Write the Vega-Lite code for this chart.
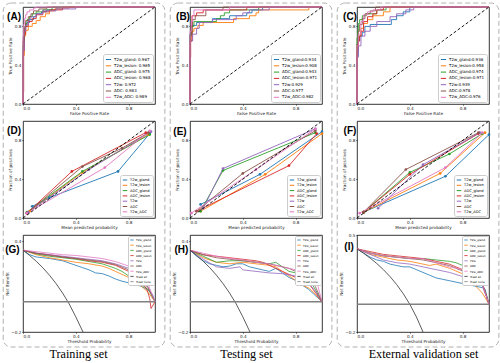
{
"$schema":"https://vega.github.io/schema/vega-lite/v6.json",
"padding":{"left":2,"top":2,"right":0,"bottom":0},
"config":{
 "view":{"stroke":"#000000","strokeWidth":0.8},
 "axis":{"grid":false,"domain":false,"labelFontSize":4.2,"titleFontSize":4.2,"titleFontWeight":"normal","labelFont":"DejaVu Sans","titleFont":"DejaVu Sans","labelColor":"#222222","titleColor":"#222222","tickSize":1.2,"tickWidth":0.6,"tickColor":"#000000","labelPadding":0.8,"titlePadding":1.5},
 "title":{"font":"Liberation Serif","fontSize":12.2,"fontWeight":"normal","color":"#000000"}
},
"datasets":{
"roc":[
{"p":"A","s":"T2w_gland: 0.967","x":0,"y":0},{"p":"A","s":"T2w_gland: 0.967","x":0,"y":0.5},{"p":"A","s":"T2w_gland: 0.967","x":0.005,"y":0.65},{"p":"A","s":"T2w_gland: 0.967","x":0.01,"y":0.75},{"p":"A","s":"T2w_gland: 0.967","x":0.02,"y":0.8},{"p":"A","s":"T2w_gland: 0.967","x":0.03,"y":0.84},{"p":"A","s":"T2w_gland: 0.967","x":0.05,"y":0.87},{"p":"A","s":"T2w_gland: 0.967","x":0.08,"y":0.9},{"p":"A","s":"T2w_gland: 0.967","x":0.1,"y":0.93},{"p":"A","s":"T2w_gland: 0.967","x":0.14,"y":0.95},{"p":"A","s":"T2w_gland: 0.967","x":0.18,"y":0.97},{"p":"A","s":"T2w_gland: 0.967","x":0.25,"y":0.99},{"p":"A","s":"T2w_gland: 0.967","x":0.3,"y":1},{"p":"A","s":"T2w_gland: 0.967","x":1,"y":1},
{"p":"A","s":"T2w_lesion: 0.965","x":0,"y":0},{"p":"A","s":"T2w_lesion: 0.965","x":0,"y":0.5},{"p":"A","s":"T2w_lesion: 0.965","x":0.01,"y":0.7},{"p":"A","s":"T2w_lesion: 0.965","x":0.02,"y":0.76},{"p":"A","s":"T2w_lesion: 0.965","x":0.04,"y":0.8},{"p":"A","s":"T2w_lesion: 0.965","x":0.07,"y":0.83},{"p":"A","s":"T2w_lesion: 0.965","x":0.1,"y":0.86},{"p":"A","s":"T2w_lesion: 0.965","x":0.13,"y":0.9},{"p":"A","s":"T2w_lesion: 0.965","x":0.17,"y":0.93},{"p":"A","s":"T2w_lesion: 0.965","x":0.2,"y":0.96},{"p":"A","s":"T2w_lesion: 0.965","x":0.24,"y":0.98},{"p":"A","s":"T2w_lesion: 0.965","x":0.3,"y":1},{"p":"A","s":"T2w_lesion: 0.965","x":1,"y":1},
{"p":"A","s":"ADC_gland: 0.975","x":0,"y":0},{"p":"A","s":"ADC_gland: 0.975","x":0,"y":0.6},{"p":"A","s":"ADC_gland: 0.975","x":0.01,"y":0.78},{"p":"A","s":"ADC_gland: 0.975","x":0.02,"y":0.83},{"p":"A","s":"ADC_gland: 0.975","x":0.03,"y":0.87},{"p":"A","s":"ADC_gland: 0.975","x":0.05,"y":0.9},{"p":"A","s":"ADC_gland: 0.975","x":0.07,"y":0.93},{"p":"A","s":"ADC_gland: 0.975","x":0.1,"y":0.95},{"p":"A","s":"ADC_gland: 0.975","x":0.15,"y":0.97},{"p":"A","s":"ADC_gland: 0.975","x":0.22,"y":1},{"p":"A","s":"ADC_gland: 0.975","x":1,"y":1},
{"p":"A","s":"ADC_lesion: 0.968","x":0,"y":0},{"p":"A","s":"ADC_lesion: 0.968","x":0,"y":0.12},{"p":"A","s":"ADC_lesion: 0.968","x":0.005,"y":0.55},{"p":"A","s":"ADC_lesion: 0.968","x":0.01,"y":0.72},{"p":"A","s":"ADC_lesion: 0.968","x":0.02,"y":0.8},{"p":"A","s":"ADC_lesion: 0.968","x":0.04,"y":0.85},{"p":"A","s":"ADC_lesion: 0.968","x":0.07,"y":0.88},{"p":"A","s":"ADC_lesion: 0.968","x":0.1,"y":0.92},{"p":"A","s":"ADC_lesion: 0.968","x":0.15,"y":0.95},{"p":"A","s":"ADC_lesion: 0.968","x":0.2,"y":0.97},{"p":"A","s":"ADC_lesion: 0.968","x":0.3,"y":0.99},{"p":"A","s":"ADC_lesion: 0.968","x":0.35,"y":1},{"p":"A","s":"ADC_lesion: 0.968","x":1,"y":1},
{"p":"A","s":"T2w: 0.972","x":0,"y":0},{"p":"A","s":"T2w: 0.972","x":0,"y":0.55},{"p":"A","s":"T2w: 0.972","x":0.01,"y":0.75},{"p":"A","s":"T2w: 0.972","x":0.02,"y":0.82},{"p":"A","s":"T2w: 0.972","x":0.04,"y":0.87},{"p":"A","s":"T2w: 0.972","x":0.06,"y":0.9},{"p":"A","s":"T2w: 0.972","x":0.1,"y":0.93},{"p":"A","s":"T2w: 0.972","x":0.15,"y":0.96},{"p":"A","s":"T2w: 0.972","x":0.25,"y":0.98},{"p":"A","s":"T2w: 0.972","x":0.4,"y":1},{"p":"A","s":"T2w: 0.972","x":1,"y":1},
{"p":"A","s":"ADC: 0.983","x":0,"y":0},{"p":"A","s":"ADC: 0.983","x":0,"y":0.65},{"p":"A","s":"ADC: 0.983","x":0.01,"y":0.8},{"p":"A","s":"ADC: 0.983","x":0.02,"y":0.86},{"p":"A","s":"ADC: 0.983","x":0.04,"y":0.9},{"p":"A","s":"ADC: 0.983","x":0.06,"y":0.93},{"p":"A","s":"ADC: 0.983","x":0.08,"y":0.96},{"p":"A","s":"ADC: 0.983","x":0.12,"y":0.98},{"p":"A","s":"ADC: 0.983","x":0.18,"y":1},{"p":"A","s":"ADC: 0.983","x":1,"y":1},
{"p":"A","s":"T2w_ADC: 0.989","x":0,"y":0},{"p":"A","s":"T2w_ADC: 0.989","x":0,"y":0.7},{"p":"A","s":"T2w_ADC: 0.989","x":0.005,"y":0.82},{"p":"A","s":"T2w_ADC: 0.989","x":0.01,"y":0.88},{"p":"A","s":"T2w_ADC: 0.989","x":0.02,"y":0.92},{"p":"A","s":"T2w_ADC: 0.989","x":0.03,"y":0.95},{"p":"A","s":"T2w_ADC: 0.989","x":0.05,"y":0.97},{"p":"A","s":"T2w_ADC: 0.989","x":0.08,"y":0.99},{"p":"A","s":"T2w_ADC: 0.989","x":0.1,"y":1},{"p":"A","s":"T2w_ADC: 0.989","x":1,"y":1},
{"p":"B","s":"T2w_gland:0.934","x":0,"y":0},{"p":"B","s":"T2w_gland:0.934","x":0,"y":0.72},{"p":"B","s":"T2w_gland:0.934","x":0.015,"y":0.81},{"p":"B","s":"T2w_gland:0.934","x":0.05,"y":0.84},{"p":"B","s":"T2w_gland:0.934","x":0.17,"y":0.88},{"p":"B","s":"T2w_gland:0.934","x":0.3,"y":0.91},{"p":"B","s":"T2w_gland:0.934","x":0.43,"y":0.94},{"p":"B","s":"T2w_gland:0.934","x":0.47,"y":0.97},{"p":"B","s":"T2w_gland:0.934","x":0.55,"y":1},{"p":"B","s":"T2w_gland:0.934","x":1,"y":1},
{"p":"B","s":"T2w_lesion:0.908","x":0,"y":0},{"p":"B","s":"T2w_lesion:0.908","x":0,"y":0.65},{"p":"B","s":"T2w_lesion:0.908","x":0.015,"y":0.75},{"p":"B","s":"T2w_lesion:0.908","x":0.03,"y":0.78},{"p":"B","s":"T2w_lesion:0.908","x":0.06,"y":0.81},{"p":"B","s":"T2w_lesion:0.908","x":0.1,"y":0.84},{"p":"B","s":"T2w_lesion:0.908","x":0.33,"y":0.88},{"p":"B","s":"T2w_lesion:0.908","x":0.45,"y":0.91},{"p":"B","s":"T2w_lesion:0.908","x":0.5,"y":0.94},{"p":"B","s":"T2w_lesion:0.908","x":0.52,"y":0.97},{"p":"B","s":"T2w_lesion:0.908","x":0.9,"y":1},{"p":"B","s":"T2w_lesion:0.908","x":1,"y":1},
{"p":"B","s":"ADC_gland:0.943","x":0,"y":0},{"p":"B","s":"ADC_gland:0.943","x":0,"y":0.72},{"p":"B","s":"ADC_gland:0.943","x":0.015,"y":0.8},{"p":"B","s":"ADC_gland:0.943","x":0.03,"y":0.85},{"p":"B","s":"ADC_gland:0.943","x":0.2,"y":0.88},{"p":"B","s":"ADC_gland:0.943","x":0.23,"y":0.91},{"p":"B","s":"ADC_gland:0.943","x":0.26,"y":0.94},{"p":"B","s":"ADC_gland:0.943","x":0.3,"y":0.97},{"p":"B","s":"ADC_gland:0.943","x":0.52,"y":1},{"p":"B","s":"ADC_gland:0.943","x":1,"y":1},
{"p":"B","s":"ADC_lesion:0.971","x":0,"y":0},{"p":"B","s":"ADC_lesion:0.971","x":0,"y":0.48},{"p":"B","s":"ADC_lesion:0.971","x":0.005,"y":0.65},{"p":"B","s":"ADC_lesion:0.971","x":0.015,"y":0.91},{"p":"B","s":"ADC_lesion:0.971","x":0.05,"y":0.94},{"p":"B","s":"ADC_lesion:0.971","x":0.1,"y":0.97},{"p":"B","s":"ADC_lesion:0.971","x":0.43,"y":1},{"p":"B","s":"ADC_lesion:0.971","x":1,"y":1},
{"p":"B","s":"T2w:0.929","x":0,"y":0},{"p":"B","s":"T2w:0.929","x":0,"y":0.65},{"p":"B","s":"T2w:0.929","x":0.02,"y":0.72},{"p":"B","s":"T2w:0.929","x":0.05,"y":0.78},{"p":"B","s":"T2w:0.929","x":0.07,"y":0.84},{"p":"B","s":"T2w:0.929","x":0.17,"y":0.87},{"p":"B","s":"T2w:0.929","x":0.35,"y":0.91},{"p":"B","s":"T2w:0.929","x":0.4,"y":0.94},{"p":"B","s":"T2w:0.929","x":0.45,"y":0.97},{"p":"B","s":"T2w:0.929","x":0.6,"y":1},{"p":"B","s":"T2w:0.929","x":1,"y":1},
{"p":"B","s":"ADC:0.977","x":0,"y":0},{"p":"B","s":"ADC:0.977","x":0,"y":0.7},{"p":"B","s":"ADC:0.977","x":0.01,"y":0.81},{"p":"B","s":"ADC:0.977","x":0.02,"y":0.87},{"p":"B","s":"ADC:0.977","x":0.04,"y":0.91},{"p":"B","s":"ADC:0.977","x":0.12,"y":0.97},{"p":"B","s":"ADC:0.977","x":0.25,"y":1},{"p":"B","s":"ADC:0.977","x":1,"y":1},
{"p":"B","s":"T2w_ADC:0.982","x":0,"y":0},{"p":"B","s":"T2w_ADC:0.982","x":0,"y":0.75},{"p":"B","s":"T2w_ADC:0.982","x":0.01,"y":0.85},{"p":"B","s":"T2w_ADC:0.982","x":0.02,"y":0.91},{"p":"B","s":"T2w_ADC:0.982","x":0.03,"y":0.97},{"p":"B","s":"T2w_ADC:0.982","x":0.3,"y":1},{"p":"B","s":"T2w_ADC:0.982","x":1,"y":1},
{"p":"C","s":"T2w_gland:0.936","x":0,"y":0},{"p":"C","s":"T2w_gland:0.936","x":0,"y":0.5},{"p":"C","s":"T2w_gland:0.936","x":0.01,"y":0.65},{"p":"C","s":"T2w_gland:0.936","x":0.02,"y":0.7},{"p":"C","s":"T2w_gland:0.936","x":0.04,"y":0.74},{"p":"C","s":"T2w_gland:0.936","x":0.06,"y":0.8},{"p":"C","s":"T2w_gland:0.936","x":0.1,"y":0.82},{"p":"C","s":"T2w_gland:0.936","x":0.26,"y":0.87},{"p":"C","s":"T2w_gland:0.936","x":0.3,"y":0.91},{"p":"C","s":"T2w_gland:0.936","x":0.35,"y":0.95},{"p":"C","s":"T2w_gland:0.936","x":0.4,"y":1},{"p":"C","s":"T2w_gland:0.936","x":1,"y":1},
{"p":"C","s":"T2w_lesion:0.958","x":0,"y":0},{"p":"C","s":"T2w_lesion:0.958","x":0,"y":0.6},{"p":"C","s":"T2w_lesion:0.958","x":0.01,"y":0.7},{"p":"C","s":"T2w_lesion:0.958","x":0.03,"y":0.78},{"p":"C","s":"T2w_lesion:0.958","x":0.05,"y":0.83},{"p":"C","s":"T2w_lesion:0.958","x":0.08,"y":0.87},{"p":"C","s":"T2w_lesion:0.958","x":0.12,"y":0.91},{"p":"C","s":"T2w_lesion:0.958","x":0.2,"y":0.95},{"p":"C","s":"T2w_lesion:0.958","x":0.25,"y":1},{"p":"C","s":"T2w_lesion:0.958","x":1,"y":1},
{"p":"C","s":"ADC_gland:0.974","x":0,"y":0},{"p":"C","s":"ADC_gland:0.974","x":0,"y":0.68},{"p":"C","s":"ADC_gland:0.974","x":0.005,"y":0.75},{"p":"C","s":"ADC_gland:0.974","x":0.01,"y":0.83},{"p":"C","s":"ADC_gland:0.974","x":0.02,"y":0.87},{"p":"C","s":"ADC_gland:0.974","x":0.04,"y":0.91},{"p":"C","s":"ADC_gland:0.974","x":0.07,"y":0.93},{"p":"C","s":"ADC_gland:0.974","x":0.15,"y":0.97},{"p":"C","s":"ADC_gland:0.974","x":0.22,"y":1},{"p":"C","s":"ADC_gland:0.974","x":1,"y":1},
{"p":"C","s":"ADC_lesion:0.971","x":0,"y":0},{"p":"C","s":"ADC_lesion:0.971","x":0,"y":0.55},{"p":"C","s":"ADC_lesion:0.971","x":0.01,"y":0.65},{"p":"C","s":"ADC_lesion:0.971","x":0.02,"y":0.7},{"p":"C","s":"ADC_lesion:0.971","x":0.03,"y":0.75},{"p":"C","s":"ADC_lesion:0.971","x":0.05,"y":0.85},{"p":"C","s":"ADC_lesion:0.971","x":0.08,"y":0.9},{"p":"C","s":"ADC_lesion:0.971","x":0.12,"y":0.93},{"p":"C","s":"ADC_lesion:0.971","x":0.15,"y":0.97},{"p":"C","s":"ADC_lesion:0.971","x":0.2,"y":1},{"p":"C","s":"ADC_lesion:0.971","x":1,"y":1},
{"p":"C","s":"T2w:0.939","x":0,"y":0},{"p":"C","s":"T2w:0.939","x":0,"y":0.48},{"p":"C","s":"T2w:0.939","x":0.01,"y":0.6},{"p":"C","s":"T2w:0.939","x":0.03,"y":0.7},{"p":"C","s":"T2w:0.939","x":0.06,"y":0.75},{"p":"C","s":"T2w:0.939","x":0.1,"y":0.8},{"p":"C","s":"T2w:0.939","x":0.15,"y":0.85},{"p":"C","s":"T2w:0.939","x":0.25,"y":0.9},{"p":"C","s":"T2w:0.939","x":0.3,"y":0.93},{"p":"C","s":"T2w:0.939","x":0.37,"y":0.97},{"p":"C","s":"T2w:0.939","x":0.43,"y":1},{"p":"C","s":"T2w:0.939","x":1,"y":1},
{"p":"C","s":"ADC:0.978","x":0,"y":0},{"p":"C","s":"ADC:0.978","x":0,"y":0.62},{"p":"C","s":"ADC:0.978","x":0.01,"y":0.75},{"p":"C","s":"ADC:0.978","x":0.02,"y":0.82},{"p":"C","s":"ADC:0.978","x":0.04,"y":0.88},{"p":"C","s":"ADC:0.978","x":0.06,"y":0.93},{"p":"C","s":"ADC:0.978","x":0.1,"y":0.96},{"p":"C","s":"ADC:0.978","x":0.14,"y":1},{"p":"C","s":"ADC:0.978","x":1,"y":1},
{"p":"C","s":"T2w_ADC:0.976","x":0,"y":0},{"p":"C","s":"T2w_ADC:0.976","x":0,"y":0.6},{"p":"C","s":"T2w_ADC:0.976","x":0.01,"y":0.72},{"p":"C","s":"T2w_ADC:0.976","x":0.03,"y":0.85},{"p":"C","s":"T2w_ADC:0.976","x":0.05,"y":0.92},{"p":"C","s":"T2w_ADC:0.976","x":0.08,"y":0.95},{"p":"C","s":"T2w_ADC:0.976","x":0.12,"y":0.97},{"p":"C","s":"T2w_ADC:0.976","x":0.18,"y":1},{"p":"C","s":"T2w_ADC:0.976","x":1,"y":1}
],
"cal":[
{"p":"D","s":"T2w_gland","x":0.07,"y":0.12},{"p":"D","s":"T2w_gland","x":0.2,"y":0.21},{"p":"D","s":"T2w_gland","x":0.72,"y":0.48},{"p":"D","s":"T2w_gland","x":0.96,"y":0.87},
{"p":"D","s":"T2w_lesion","x":0.05,"y":0.07},{"p":"D","s":"T2w_lesion","x":0.45,"y":0.47},{"p":"D","s":"T2w_lesion","x":0.95,"y":0.86},
{"p":"D","s":"ADC_gland","x":0.03,"y":0.06},{"p":"D","s":"ADC_gland","x":0.45,"y":0.48},{"p":"D","s":"ADC_gland","x":0.96,"y":0.86},
{"p":"D","s":"ADC_lesion","x":0.03,"y":0.05},{"p":"D","s":"ADC_lesion","x":0.37,"y":0.48},{"p":"D","s":"ADC_lesion","x":0.93,"y":0.88},
{"p":"D","s":"T2w","x":0.04,"y":0.06},{"p":"D","s":"T2w","x":0.5,"y":0.5},{"p":"D","s":"T2w","x":0.97,"y":0.89},
{"p":"D","s":"ADC","x":0.03,"y":0.05},{"p":"D","s":"ADC","x":0.45,"y":0.53},{"p":"D","s":"ADC","x":0.75,"y":0.72},{"p":"D","s":"ADC","x":0.95,"y":0.88},
{"p":"D","s":"T2w_ADC","x":0.03,"y":0.05},{"p":"D","s":"T2w_ADC","x":0.62,"y":0.52},{"p":"D","s":"T2w_ADC","x":0.96,"y":0.9},
{"p":"E","s":"T2w_gland","x":0.08,"y":0.14},{"p":"E","s":"T2w_gland","x":0.53,"y":0.45},{"p":"E","s":"T2w_gland","x":1.0,"y":0.89},
{"p":"E","s":"T2w_lesion","x":0.08,"y":0.07},{"p":"E","s":"T2w_lesion","x":0.57,"y":0.45},{"p":"E","s":"T2w_lesion","x":1.0,"y":0.87},
{"p":"E","s":"ADC_gland","x":0.08,"y":0.07},{"p":"E","s":"ADC_gland","x":0.25,"y":0.49},{"p":"E","s":"ADC_gland","x":0.95,"y":0.88},
{"p":"E","s":"ADC_lesion","x":0.05,"y":0.07},{"p":"E","s":"ADC_lesion","x":0.75,"y":0.54},{"p":"E","s":"ADC_lesion","x":0.96,"y":0.87},
{"p":"E","s":"T2w","x":0.1,"y":0.1},{"p":"E","s":"T2w","x":0.25,"y":0.51},{"p":"E","s":"T2w","x":0.95,"y":0.92},
{"p":"E","s":"ADC","x":0.05,"y":0.07},{"p":"E","s":"ADC","x":0.4,"y":0.46},{"p":"E","s":"ADC","x":0.95,"y":0.9},
{"p":"E","s":"T2w_ADC","x":0.01,"y":0.05},{"p":"E","s":"T2w_ADC","x":0.5,"y":0.5},{"p":"E","s":"T2w_ADC","x":0.95,"y":0.92},
{"p":"F","s":"T2w_gland","x":0.05,"y":0.06},{"p":"F","s":"T2w_gland","x":0.67,"y":0.43},{"p":"F","s":"T2w_gland","x":1.0,"y":0.86},
{"p":"F","s":"T2w_lesion","x":0.05,"y":0.06},{"p":"F","s":"T2w_lesion","x":0.63,"y":0.46},{"p":"F","s":"T2w_lesion","x":0.97,"y":0.88},
{"p":"F","s":"ADC_gland","x":0.05,"y":0.06},{"p":"F","s":"ADC_gland","x":0.4,"y":0.47},{"p":"F","s":"ADC_gland","x":0.7,"y":0.66},{"p":"F","s":"ADC_gland","x":0.95,"y":0.87},
{"p":"F","s":"ADC_lesion","x":0.05,"y":0.06},{"p":"F","s":"ADC_lesion","x":0.4,"y":0.45},{"p":"F","s":"ADC_lesion","x":0.92,"y":0.87},
{"p":"F","s":"T2w","x":0.16,"y":0.1},{"p":"F","s":"T2w","x":0.5,"y":0.55},{"p":"F","s":"T2w","x":0.93,"y":0.88},
{"p":"F","s":"ADC","x":0.05,"y":0.06},{"p":"F","s":"ADC","x":0.37,"y":0.5},{"p":"F","s":"ADC","x":0.92,"y":0.88},
{"p":"F","s":"T2w_ADC","x":0.02,"y":0.05},{"p":"F","s":"T2w_ADC","x":0.67,"y":0.52},{"p":"F","s":"T2w_ADC","x":0.95,"y":0.88}
],
"dca":[
{"p":"G","s":"T2w_gland","x":0,"y":0.34},{"p":"G","s":"T2w_gland","x":0.05,"y":0.31},{"p":"G","s":"T2w_gland","x":0.1,"y":0.295},{"p":"G","s":"T2w_gland","x":0.15,"y":0.29},{"p":"G","s":"T2w_gland","x":0.2,"y":0.285},{"p":"G","s":"T2w_gland","x":0.3,"y":0.27},{"p":"G","s":"T2w_gland","x":0.4,"y":0.24},{"p":"G","s":"T2w_gland","x":0.45,"y":0.225},{"p":"G","s":"T2w_gland","x":0.5,"y":0.21},{"p":"G","s":"T2w_gland","x":0.55,"y":0.19},{"p":"G","s":"T2w_gland","x":0.6,"y":0.185},{"p":"G","s":"T2w_gland","x":0.65,"y":0.17},{"p":"G","s":"T2w_gland","x":0.7,"y":0.15},{"p":"G","s":"T2w_gland","x":0.75,"y":0.135},{"p":"G","s":"T2w_gland","x":0.8,"y":0.125},{"p":"G","s":"T2w_gland","x":0.85,"y":0.115},{"p":"G","s":"T2w_gland","x":0.9,"y":0.1},{"p":"G","s":"T2w_gland","x":0.95,"y":0.075},{"p":"G","s":"T2w_gland","x":0.98,"y":0.05},{"p":"G","s":"T2w_gland","x":1,"y":0},
{"p":"G","s":"T2w_lesion","x":0,"y":0.34},{"p":"G","s":"T2w_lesion","x":0.1,"y":0.31},{"p":"G","s":"T2w_lesion","x":0.2,"y":0.29},{"p":"G","s":"T2w_lesion","x":0.3,"y":0.275},{"p":"G","s":"T2w_lesion","x":0.4,"y":0.26},{"p":"G","s":"T2w_lesion","x":0.5,"y":0.25},{"p":"G","s":"T2w_lesion","x":0.6,"y":0.235},{"p":"G","s":"T2w_lesion","x":0.65,"y":0.22},{"p":"G","s":"T2w_lesion","x":0.7,"y":0.2},{"p":"G","s":"T2w_lesion","x":0.75,"y":0.18},{"p":"G","s":"T2w_lesion","x":0.8,"y":0.16},{"p":"G","s":"T2w_lesion","x":0.85,"y":0.13},{"p":"G","s":"T2w_lesion","x":0.9,"y":0.1},{"p":"G","s":"T2w_lesion","x":0.95,"y":0.06},{"p":"G","s":"T2w_lesion","x":1,"y":0},
{"p":"G","s":"ADC_gland","x":0,"y":0.34},{"p":"G","s":"ADC_gland","x":0.1,"y":0.315},{"p":"G","s":"ADC_gland","x":0.2,"y":0.3},{"p":"G","s":"ADC_gland","x":0.3,"y":0.29},{"p":"G","s":"ADC_gland","x":0.4,"y":0.28},{"p":"G","s":"ADC_gland","x":0.5,"y":0.265},{"p":"G","s":"ADC_gland","x":0.6,"y":0.25},{"p":"G","s":"ADC_gland","x":0.65,"y":0.235},{"p":"G","s":"ADC_gland","x":0.7,"y":0.22},{"p":"G","s":"ADC_gland","x":0.75,"y":0.2},{"p":"G","s":"ADC_gland","x":0.8,"y":0.17},{"p":"G","s":"ADC_gland","x":0.85,"y":0.14},{"p":"G","s":"ADC_gland","x":0.9,"y":0.11},{"p":"G","s":"ADC_gland","x":0.95,"y":0.08},{"p":"G","s":"ADC_gland","x":1,"y":0},
{"p":"G","s":"ADC_lesion","x":0,"y":0.34},{"p":"G","s":"ADC_lesion","x":0.1,"y":0.32},{"p":"G","s":"ADC_lesion","x":0.2,"y":0.31},{"p":"G","s":"ADC_lesion","x":0.3,"y":0.295},{"p":"G","s":"ADC_lesion","x":0.4,"y":0.285},{"p":"G","s":"ADC_lesion","x":0.5,"y":0.27},{"p":"G","s":"ADC_lesion","x":0.6,"y":0.26},{"p":"G","s":"ADC_lesion","x":0.7,"y":0.24},{"p":"G","s":"ADC_lesion","x":0.75,"y":0.22},{"p":"G","s":"ADC_lesion","x":0.8,"y":0.2},{"p":"G","s":"ADC_lesion","x":0.85,"y":0.17},{"p":"G","s":"ADC_lesion","x":0.9,"y":0.13},{"p":"G","s":"ADC_lesion","x":0.94,"y":0.08},{"p":"G","s":"ADC_lesion","x":0.96,"y":0.02},{"p":"G","s":"ADC_lesion","x":0.97,"y":-0.045},{"p":"G","s":"ADC_lesion","x":1,"y":0},
{"p":"G","s":"T2w","x":0,"y":0.34},{"p":"G","s":"T2w","x":0.1,"y":0.32},{"p":"G","s":"T2w","x":0.2,"y":0.31},{"p":"G","s":"T2w","x":0.3,"y":0.3},{"p":"G","s":"T2w","x":0.4,"y":0.29},{"p":"G","s":"T2w","x":0.5,"y":0.28},{"p":"G","s":"T2w","x":0.6,"y":0.27},{"p":"G","s":"T2w","x":0.7,"y":0.25},{"p":"G","s":"T2w","x":0.8,"y":0.22},{"p":"G","s":"T2w","x":0.85,"y":0.19},{"p":"G","s":"T2w","x":0.9,"y":0.15},{"p":"G","s":"T2w","x":0.95,"y":0.09},{"p":"G","s":"T2w","x":1,"y":0},
{"p":"G","s":"ADC","x":0,"y":0.34},{"p":"G","s":"ADC","x":0.1,"y":0.32},{"p":"G","s":"ADC","x":0.2,"y":0.305},{"p":"G","s":"ADC","x":0.3,"y":0.295},{"p":"G","s":"ADC","x":0.4,"y":0.285},{"p":"G","s":"ADC","x":0.5,"y":0.275},{"p":"G","s":"ADC","x":0.6,"y":0.265},{"p":"G","s":"ADC","x":0.7,"y":0.245},{"p":"G","s":"ADC","x":0.8,"y":0.21},{"p":"G","s":"ADC","x":0.85,"y":0.18},{"p":"G","s":"ADC","x":0.9,"y":0.14},{"p":"G","s":"ADC","x":0.95,"y":0.09},{"p":"G","s":"ADC","x":1,"y":0},
{"p":"G","s":"T2w_ADC","x":0,"y":0.34},{"p":"G","s":"T2w_ADC","x":0.1,"y":0.33},{"p":"G","s":"T2w_ADC","x":0.2,"y":0.32},{"p":"G","s":"T2w_ADC","x":0.3,"y":0.31},{"p":"G","s":"T2w_ADC","x":0.4,"y":0.305},{"p":"G","s":"T2w_ADC","x":0.5,"y":0.295},{"p":"G","s":"T2w_ADC","x":0.6,"y":0.285},{"p":"G","s":"T2w_ADC","x":0.7,"y":0.265},{"p":"G","s":"T2w_ADC","x":0.75,"y":0.25},{"p":"G","s":"T2w_ADC","x":0.8,"y":0.235},{"p":"G","s":"T2w_ADC","x":0.85,"y":0.21},{"p":"G","s":"T2w_ADC","x":0.9,"y":0.17},{"p":"G","s":"T2w_ADC","x":0.95,"y":0.11},{"p":"G","s":"T2w_ADC","x":1,"y":0},
{"p":"G","s":"Treat all","x":0,"y":0.34},{"p":"G","s":"Treat all","x":0.05,"y":0.305},{"p":"G","s":"Treat all","x":0.1,"y":0.267},{"p":"G","s":"Treat all","x":0.15,"y":0.224},{"p":"G","s":"Treat all","x":0.2,"y":0.175},{"p":"G","s":"Treat all","x":0.25,"y":0.12},{"p":"G","s":"Treat all","x":0.3,"y":0.057},{"p":"G","s":"Treat all","x":0.35,"y":-0.015},{"p":"G","s":"Treat all","x":0.4,"y":-0.1},{"p":"G","s":"Treat all","x":0.4545,"y":-0.2},
{"p":"G","s":"Treat none","x":0,"y":0},{"p":"G","s":"Treat none","x":1,"y":0},
{"p":"H","s":"T2w_gland","x":0,"y":0.34},{"p":"H","s":"T2w_gland","x":0.05,"y":0.3},{"p":"H","s":"T2w_gland","x":0.1,"y":0.27},{"p":"H","s":"T2w_gland","x":0.15,"y":0.25},{"p":"H","s":"T2w_gland","x":0.2,"y":0.24},{"p":"H","s":"T2w_gland","x":0.25,"y":0.23},{"p":"H","s":"T2w_gland","x":0.3,"y":0.235},{"p":"H","s":"T2w_gland","x":0.35,"y":0.25},{"p":"H","s":"T2w_gland","x":0.4,"y":0.25},{"p":"H","s":"T2w_gland","x":0.45,"y":0.23},{"p":"H","s":"T2w_gland","x":0.5,"y":0.22},{"p":"H","s":"T2w_gland","x":0.55,"y":0.21},{"p":"H","s":"T2w_gland","x":0.6,"y":0.2},{"p":"H","s":"T2w_gland","x":0.65,"y":0.22},{"p":"H","s":"T2w_gland","x":0.7,"y":0.19},{"p":"H","s":"T2w_gland","x":0.75,"y":0.16},{"p":"H","s":"T2w_gland","x":0.8,"y":0.14},{"p":"H","s":"T2w_gland","x":0.85,"y":0.11},{"p":"H","s":"T2w_gland","x":0.9,"y":0.08},{"p":"H","s":"T2w_gland","x":0.95,"y":0.04},{"p":"H","s":"T2w_gland","x":1,"y":0},
{"p":"H","s":"T2w_lesion","x":0,"y":0.34},{"p":"H","s":"T2w_lesion","x":0.1,"y":0.29},{"p":"H","s":"T2w_lesion","x":0.2,"y":0.26},{"p":"H","s":"T2w_lesion","x":0.3,"y":0.25},{"p":"H","s":"T2w_lesion","x":0.4,"y":0.26},{"p":"H","s":"T2w_lesion","x":0.5,"y":0.25},{"p":"H","s":"T2w_lesion","x":0.6,"y":0.24},{"p":"H","s":"T2w_lesion","x":0.65,"y":0.23},{"p":"H","s":"T2w_lesion","x":0.7,"y":0.2},{"p":"H","s":"T2w_lesion","x":0.75,"y":0.17},{"p":"H","s":"T2w_lesion","x":0.8,"y":0.14},{"p":"H","s":"T2w_lesion","x":0.85,"y":0.11},{"p":"H","s":"T2w_lesion","x":0.9,"y":0.09},{"p":"H","s":"T2w_lesion","x":0.95,"y":0.05},{"p":"H","s":"T2w_lesion","x":1,"y":0},
{"p":"H","s":"ADC_gland","x":0,"y":0.34},{"p":"H","s":"ADC_gland","x":0.1,"y":0.3},{"p":"H","s":"ADC_gland","x":0.2,"y":0.26},{"p":"H","s":"ADC_gland","x":0.3,"y":0.27},{"p":"H","s":"ADC_gland","x":0.4,"y":0.27},{"p":"H","s":"ADC_gland","x":0.5,"y":0.26},{"p":"H","s":"ADC_gland","x":0.6,"y":0.25},{"p":"H","s":"ADC_gland","x":0.65,"y":0.26},{"p":"H","s":"ADC_gland","x":0.7,"y":0.23},{"p":"H","s":"ADC_gland","x":0.75,"y":0.2},{"p":"H","s":"ADC_gland","x":0.8,"y":0.19},{"p":"H","s":"ADC_gland","x":0.85,"y":0.16},{"p":"H","s":"ADC_gland","x":0.9,"y":0.15},{"p":"H","s":"ADC_gland","x":0.95,"y":0.08},{"p":"H","s":"ADC_gland","x":1,"y":0},
{"p":"H","s":"ADC_lesion","x":0,"y":0.34},{"p":"H","s":"ADC_lesion","x":0.1,"y":0.31},{"p":"H","s":"ADC_lesion","x":0.2,"y":0.3},{"p":"H","s":"ADC_lesion","x":0.3,"y":0.29},{"p":"H","s":"ADC_lesion","x":0.4,"y":0.28},{"p":"H","s":"ADC_lesion","x":0.5,"y":0.27},{"p":"H","s":"ADC_lesion","x":0.55,"y":0.26},{"p":"H","s":"ADC_lesion","x":0.6,"y":0.24},{"p":"H","s":"ADC_lesion","x":0.65,"y":0.22},{"p":"H","s":"ADC_lesion","x":0.7,"y":0.2},{"p":"H","s":"ADC_lesion","x":0.75,"y":0.18},{"p":"H","s":"ADC_lesion","x":0.8,"y":0.16},{"p":"H","s":"ADC_lesion","x":0.85,"y":0.14},{"p":"H","s":"ADC_lesion","x":0.9,"y":0.12},{"p":"H","s":"ADC_lesion","x":0.95,"y":0.06},{"p":"H","s":"ADC_lesion","x":1,"y":0},
{"p":"H","s":"T2w","x":0,"y":0.34},{"p":"H","s":"T2w","x":0.1,"y":0.28},{"p":"H","s":"T2w","x":0.2,"y":0.23},{"p":"H","s":"T2w","x":0.3,"y":0.22},{"p":"H","s":"T2w","x":0.38,"y":0.23},{"p":"H","s":"T2w","x":0.4,"y":0.21},{"p":"H","s":"T2w","x":0.5,"y":0.2},{"p":"H","s":"T2w","x":0.6,"y":0.19},{"p":"H","s":"T2w","x":0.7,"y":0.185},{"p":"H","s":"T2w","x":0.8,"y":0.17},{"p":"H","s":"T2w","x":0.85,"y":0.15},{"p":"H","s":"T2w","x":0.9,"y":0.12},{"p":"H","s":"T2w","x":0.95,"y":0.07},{"p":"H","s":"T2w","x":1,"y":0},
{"p":"H","s":"ADC","x":0,"y":0.34},{"p":"H","s":"ADC","x":0.1,"y":0.31},{"p":"H","s":"ADC","x":0.2,"y":0.29},{"p":"H","s":"ADC","x":0.3,"y":0.28},{"p":"H","s":"ADC","x":0.4,"y":0.27},{"p":"H","s":"ADC","x":0.5,"y":0.26},{"p":"H","s":"ADC","x":0.6,"y":0.25},{"p":"H","s":"ADC","x":0.7,"y":0.23},{"p":"H","s":"ADC","x":0.75,"y":0.22},{"p":"H","s":"ADC","x":0.8,"y":0.2},{"p":"H","s":"ADC","x":0.85,"y":0.2},{"p":"H","s":"ADC","x":0.9,"y":0.17},{"p":"H","s":"ADC","x":0.95,"y":0.1},{"p":"H","s":"ADC","x":1,"y":0},
{"p":"H","s":"T2w_ADC","x":0,"y":0.34},{"p":"H","s":"T2w_ADC","x":0.1,"y":0.32},{"p":"H","s":"T2w_ADC","x":0.2,"y":0.3},{"p":"H","s":"T2w_ADC","x":0.3,"y":0.285},{"p":"H","s":"T2w_ADC","x":0.4,"y":0.275},{"p":"H","s":"T2w_ADC","x":0.5,"y":0.26},{"p":"H","s":"T2w_ADC","x":0.6,"y":0.25},{"p":"H","s":"T2w_ADC","x":0.7,"y":0.23},{"p":"H","s":"T2w_ADC","x":0.75,"y":0.22},{"p":"H","s":"T2w_ADC","x":0.8,"y":0.21},{"p":"H","s":"T2w_ADC","x":0.85,"y":0.2},{"p":"H","s":"T2w_ADC","x":0.9,"y":0.18},{"p":"H","s":"T2w_ADC","x":0.95,"y":0.13},{"p":"H","s":"T2w_ADC","x":0.97,"y":0.1},{"p":"H","s":"T2w_ADC","x":1,"y":0},
{"p":"H","s":"Treat all","x":0,"y":0.34},{"p":"H","s":"Treat all","x":0.05,"y":0.305},{"p":"H","s":"Treat all","x":0.1,"y":0.267},{"p":"H","s":"Treat all","x":0.15,"y":0.224},{"p":"H","s":"Treat all","x":0.2,"y":0.175},{"p":"H","s":"Treat all","x":0.25,"y":0.12},{"p":"H","s":"Treat all","x":0.3,"y":0.057},{"p":"H","s":"Treat all","x":0.35,"y":-0.015},{"p":"H","s":"Treat all","x":0.4,"y":-0.1},{"p":"H","s":"Treat all","x":0.4545,"y":-0.2},
{"p":"H","s":"Treat none","x":0,"y":0},{"p":"H","s":"Treat none","x":1,"y":0},
{"p":"I","s":"T2w_gland","x":0,"y":0.4},{"p":"I","s":"T2w_gland","x":0.05,"y":0.37},{"p":"I","s":"T2w_gland","x":0.1,"y":0.34},{"p":"I","s":"T2w_gland","x":0.15,"y":0.32},{"p":"I","s":"T2w_gland","x":0.2,"y":0.31},{"p":"I","s":"T2w_gland","x":0.25,"y":0.29},{"p":"I","s":"T2w_gland","x":0.3,"y":0.28},{"p":"I","s":"T2w_gland","x":0.35,"y":0.27},{"p":"I","s":"T2w_gland","x":0.4,"y":0.27},{"p":"I","s":"T2w_gland","x":0.45,"y":0.25},{"p":"I","s":"T2w_gland","x":0.5,"y":0.23},{"p":"I","s":"T2w_gland","x":0.55,"y":0.21},{"p":"I","s":"T2w_gland","x":0.6,"y":0.19},{"p":"I","s":"T2w_gland","x":0.65,"y":0.18},{"p":"I","s":"T2w_gland","x":0.7,"y":0.17},{"p":"I","s":"T2w_gland","x":0.75,"y":0.16},{"p":"I","s":"T2w_gland","x":0.8,"y":0.15},{"p":"I","s":"T2w_gland","x":0.85,"y":0.14},{"p":"I","s":"T2w_gland","x":0.9,"y":0.13},{"p":"I","s":"T2w_gland","x":0.95,"y":0.12},{"p":"I","s":"T2w_gland","x":0.97,"y":0.11},{"p":"I","s":"T2w_gland","x":1,"y":0},
{"p":"I","s":"T2w_lesion","x":0,"y":0.4},{"p":"I","s":"T2w_lesion","x":0.1,"y":0.36},{"p":"I","s":"T2w_lesion","x":0.2,"y":0.34},{"p":"I","s":"T2w_lesion","x":0.3,"y":0.32},{"p":"I","s":"T2w_lesion","x":0.4,"y":0.31},{"p":"I","s":"T2w_lesion","x":0.5,"y":0.29},{"p":"I","s":"T2w_lesion","x":0.55,"y":0.28},{"p":"I","s":"T2w_lesion","x":0.6,"y":0.29},{"p":"I","s":"T2w_lesion","x":0.7,"y":0.26},{"p":"I","s":"T2w_lesion","x":0.8,"y":0.22},{"p":"I","s":"T2w_lesion","x":0.85,"y":0.18},{"p":"I","s":"T2w_lesion","x":0.9,"y":0.13},{"p":"I","s":"T2w_lesion","x":0.95,"y":0.08},{"p":"I","s":"T2w_lesion","x":1,"y":0},
{"p":"I","s":"ADC_gland","x":0,"y":0.4},{"p":"I","s":"ADC_gland","x":0.1,"y":0.37},{"p":"I","s":"ADC_gland","x":0.2,"y":0.35},{"p":"I","s":"ADC_gland","x":0.3,"y":0.34},{"p":"I","s":"ADC_gland","x":0.4,"y":0.33},{"p":"I","s":"ADC_gland","x":0.5,"y":0.33},{"p":"I","s":"ADC_gland","x":0.6,"y":0.32},{"p":"I","s":"ADC_gland","x":0.7,"y":0.31},{"p":"I","s":"ADC_gland","x":0.75,"y":0.3},{"p":"I","s":"ADC_gland","x":0.8,"y":0.28},{"p":"I","s":"ADC_gland","x":0.85,"y":0.25},{"p":"I","s":"ADC_gland","x":0.9,"y":0.2},{"p":"I","s":"ADC_gland","x":0.95,"y":0.14},{"p":"I","s":"ADC_gland","x":0.97,"y":0.1},{"p":"I","s":"ADC_gland","x":1,"y":0},
{"p":"I","s":"ADC_lesion","x":0,"y":0.4},{"p":"I","s":"ADC_lesion","x":0.1,"y":0.38},{"p":"I","s":"ADC_lesion","x":0.2,"y":0.36},{"p":"I","s":"ADC_lesion","x":0.3,"y":0.35},{"p":"I","s":"ADC_lesion","x":0.4,"y":0.34},{"p":"I","s":"ADC_lesion","x":0.5,"y":0.33},{"p":"I","s":"ADC_lesion","x":0.6,"y":0.31},{"p":"I","s":"ADC_lesion","x":0.7,"y":0.29},{"p":"I","s":"ADC_lesion","x":0.75,"y":0.27},{"p":"I","s":"ADC_lesion","x":0.8,"y":0.25},{"p":"I","s":"ADC_lesion","x":0.85,"y":0.28},{"p":"I","s":"ADC_lesion","x":0.87,"y":0.22},{"p":"I","s":"ADC_lesion","x":0.9,"y":0.22},{"p":"I","s":"ADC_lesion","x":0.95,"y":0.15},{"p":"I","s":"ADC_lesion","x":1,"y":0},
{"p":"I","s":"T2w","x":0,"y":0.4},{"p":"I","s":"T2w","x":0.1,"y":0.36},{"p":"I","s":"T2w","x":0.2,"y":0.32},{"p":"I","s":"T2w","x":0.3,"y":0.3},{"p":"I","s":"T2w","x":0.4,"y":0.29},{"p":"I","s":"T2w","x":0.5,"y":0.27},{"p":"I","s":"T2w","x":0.6,"y":0.25},{"p":"I","s":"T2w","x":0.7,"y":0.23},{"p":"I","s":"T2w","x":0.8,"y":0.2},{"p":"I","s":"T2w","x":0.85,"y":0.19},{"p":"I","s":"T2w","x":0.9,"y":0.17},{"p":"I","s":"T2w","x":0.95,"y":0.13},{"p":"I","s":"T2w","x":1,"y":0},
{"p":"I","s":"ADC","x":0,"y":0.4},{"p":"I","s":"ADC","x":0.1,"y":0.37},{"p":"I","s":"ADC","x":0.2,"y":0.35},{"p":"I","s":"ADC","x":0.3,"y":0.34},{"p":"I","s":"ADC","x":0.4,"y":0.33},{"p":"I","s":"ADC","x":0.5,"y":0.32},{"p":"I","s":"ADC","x":0.6,"y":0.3},{"p":"I","s":"ADC","x":0.7,"y":0.28},{"p":"I","s":"ADC","x":0.8,"y":0.24},{"p":"I","s":"ADC","x":0.85,"y":0.23},{"p":"I","s":"ADC","x":0.9,"y":0.2},{"p":"I","s":"ADC","x":0.95,"y":0.15},{"p":"I","s":"ADC","x":1,"y":0},
{"p":"I","s":"T2w_ADC","x":0,"y":0.4},{"p":"I","s":"T2w_ADC","x":0.1,"y":0.37},{"p":"I","s":"T2w_ADC","x":0.2,"y":0.35},{"p":"I","s":"T2w_ADC","x":0.3,"y":0.34},{"p":"I","s":"T2w_ADC","x":0.4,"y":0.33},{"p":"I","s":"T2w_ADC","x":0.5,"y":0.33},{"p":"I","s":"T2w_ADC","x":0.6,"y":0.3},{"p":"I","s":"T2w_ADC","x":0.7,"y":0.27},{"p":"I","s":"T2w_ADC","x":0.8,"y":0.25},{"p":"I","s":"T2w_ADC","x":0.85,"y":0.24},{"p":"I","s":"T2w_ADC","x":0.9,"y":0.2},{"p":"I","s":"T2w_ADC","x":0.95,"y":0.15},{"p":"I","s":"T2w_ADC","x":1,"y":0},
{"p":"I","s":"Treat all","x":0,"y":0.4},{"p":"I","s":"Treat all","x":0.05,"y":0.368},{"p":"I","s":"Treat all","x":0.1,"y":0.333},{"p":"I","s":"Treat all","x":0.15,"y":0.294},{"p":"I","s":"Treat all","x":0.2,"y":0.25},{"p":"I","s":"Treat all","x":0.25,"y":0.2},{"p":"I","s":"Treat all","x":0.3,"y":0.143},{"p":"I","s":"Treat all","x":0.35,"y":0.077},{"p":"I","s":"Treat all","x":0.4,"y":0},{"p":"I","s":"Treat all","x":0.45,"y":-0.091},{"p":"I","s":"Treat all","x":0.5,"y":-0.2},
{"p":"I","s":"Treat none","x":0,"y":0},{"p":"I","s":"Treat none","x":1,"y":0}
]
},
"columns":3,
"spacing":{"row":17,"column":35},
"bounds":"flush",
"resolve":{"scale":{"color":"independent"}},
"concat":[
{"width":132,"height":97,
 "layer":[
  {"data":{"name":"roc"},"transform":[{"filter":"datum.p==='A'"}],"mark":{"type":"line","interpolate":"step-after","strokeWidth":0.9},
   "encoding":{"x":{"field":"x","type":"quantitative","scale":{"domain":[0,1],"nice":false,"zero":false},"axis":{"values":[0,0.2,0.4,0.6,0.8,1],"format":".1f"},"title":"False Positive Rate"},
    "y":{"field":"y","type":"quantitative","scale":{"domain":[0,1],"nice":false,"zero":false},"axis":{"values":[0,0.2,0.4,0.6,0.8,1],"format":".1f"},"title":"True Positive Rate"},
    "order":{"value":null},"color":{"field":"s","type":"nominal","scale":{"domain":["T2w_gland: 0.967","T2w_lesion: 0.965","ADC_gland: 0.975","ADC_lesion: 0.968","T2w: 0.972","ADC: 0.983","T2w_ADC: 0.989"],"range":["#1f77b4","#ff7f0e","#2ca02c","#d62728","#9467bd","#8c564b","#e377c2"]},
    "legend":{"orient":"bottom-right","offset":2,"title":null,"labelFontSize":4,"labelFont":"DejaVu Sans","symbolSize":28,"symbolType":"stroke","symbolStrokeWidth":1,"rowPadding":0.3,"padding":2,"fillColor":"white","strokeColor":"#cccccc","cornerRadius":2,"labelOffset":2}}}},
  {"data":{"values":[{"x":0,"y":0},{"x":1,"y":1}]},"mark":{"type":"line","color":"black","strokeDash":[3,2],"strokeWidth":0.9},
   "encoding":{"x":{"field":"x","type":"quantitative","scale":{"domain":[0,1],"nice":false,"zero":false},"title":"False Positive Rate"},"y":{"field":"y","type":"quantitative","scale":{"domain":[0,1],"nice":false,"zero":false},"title":"True Positive Rate"}}},
  {"data":{"values":[{}]},"mark":{"type":"rect","filled":false,"stroke":"#b0b0b0","strokeDash":[5,3],"strokeWidth":1,"cornerRadius":8},
   "encoding":{"x":{"datum":-0.15,"type":"quantitative","scale":{"domain":[0,1],"nice":false,"zero":false},"title":"False Positive Rate"},"x2":{"datum":1.075},"y":{"datum":1.041,"type":"quantitative","scale":{"domain":[0,1],"nice":false,"zero":false},"title":"True Positive Rate"},"y2":{"datum":-2.505}}},
  {"data":{"values":[{}]},"mark":{"type":"text","text":"(A)","font":"Liberation Sans","fontWeight":"bold","fontSize":10,"color":"black"},
   "encoding":{"x":{"datum":-0.068,"type":"quantitative","scale":{"domain":[0,1],"nice":false,"zero":false},"title":"False Positive Rate"},"y":{"datum":0.897,"type":"quantitative","scale":{"domain":[0,1],"nice":false,"zero":false},"title":"True Positive Rate"}}}
 ]},
{"width":132,"height":97,
 "layer":[
  {"data":{"name":"roc"},"transform":[{"filter":"datum.p==='B'"}],"mark":{"type":"line","interpolate":"step-after","strokeWidth":0.9},
   "encoding":{"x":{"field":"x","type":"quantitative","scale":{"domain":[0,1],"nice":false,"zero":false},"axis":{"values":[0,0.2,0.4,0.6,0.8,1],"format":".1f"},"title":"False Positive Rate"},
    "y":{"field":"y","type":"quantitative","scale":{"domain":[0,1],"nice":false,"zero":false},"axis":{"values":[0,0.2,0.4,0.6,0.8,1],"format":".1f"},"title":"True Positive Rate"},
    "order":{"value":null},"color":{"field":"s","type":"nominal","scale":{"domain":["T2w_gland:0.934","T2w_lesion:0.908","ADC_gland:0.943","ADC_lesion:0.971","T2w:0.929","ADC:0.977","T2w_ADC:0.982"],"range":["#1f77b4","#ff7f0e","#2ca02c","#d62728","#9467bd","#8c564b","#e377c2"]},
    "legend":{"orient":"bottom-right","offset":2,"title":null,"labelFontSize":4,"labelFont":"DejaVu Sans","symbolSize":28,"symbolType":"stroke","symbolStrokeWidth":1,"rowPadding":0.3,"padding":2,"fillColor":"white","strokeColor":"#cccccc","cornerRadius":2,"labelOffset":2}}}},
  {"data":{"values":[{"x":0,"y":0},{"x":1,"y":1}]},"mark":{"type":"line","color":"black","strokeDash":[3,2],"strokeWidth":0.9},
   "encoding":{"x":{"field":"x","type":"quantitative","scale":{"domain":[0,1],"nice":false,"zero":false},"title":"False Positive Rate"},"y":{"field":"y","type":"quantitative","scale":{"domain":[0,1],"nice":false,"zero":false},"title":"True Positive Rate"}}},
  {"data":{"values":[{}]},"mark":{"type":"rect","filled":false,"stroke":"#b0b0b0","strokeDash":[5,3],"strokeWidth":1,"cornerRadius":8},
   "encoding":{"x":{"datum":-0.15,"type":"quantitative","scale":{"domain":[0,1],"nice":false,"zero":false},"title":"False Positive Rate"},"x2":{"datum":1.075},"y":{"datum":1.041,"type":"quantitative","scale":{"domain":[0,1],"nice":false,"zero":false},"title":"True Positive Rate"},"y2":{"datum":-2.505}}},
  {"data":{"values":[{}]},"mark":{"type":"text","text":"(B)","font":"Liberation Sans","fontWeight":"bold","fontSize":10,"color":"black"},
   "encoding":{"x":{"datum":-0.053,"type":"quantitative","scale":{"domain":[0,1],"nice":false,"zero":false},"title":"False Positive Rate"},"y":{"datum":0.897,"type":"quantitative","scale":{"domain":[0,1],"nice":false,"zero":false},"title":"True Positive Rate"}}}
 ]},
{"width":132,"height":97,
 "layer":[
  {"data":{"name":"roc"},"transform":[{"filter":"datum.p==='C'"}],"mark":{"type":"line","interpolate":"step-after","strokeWidth":0.9},
   "encoding":{"x":{"field":"x","type":"quantitative","scale":{"domain":[0,1],"nice":false,"zero":false},"axis":{"values":[0,0.2,0.4,0.6,0.8,1],"format":".1f"},"title":"False Positive Rate"},
    "y":{"field":"y","type":"quantitative","scale":{"domain":[0,1],"nice":false,"zero":false},"axis":{"values":[0,0.2,0.4,0.6,0.8,1],"format":".1f"},"title":"True Positive Rate"},
    "order":{"value":null},"color":{"field":"s","type":"nominal","scale":{"domain":["T2w_gland:0.936","T2w_lesion:0.958","ADC_gland:0.974","ADC_lesion:0.971","T2w:0.939","ADC:0.978","T2w_ADC:0.976"],"range":["#1f77b4","#ff7f0e","#2ca02c","#d62728","#9467bd","#8c564b","#e377c2"]},
    "legend":{"orient":"bottom-right","offset":2,"title":null,"labelFontSize":4,"labelFont":"DejaVu Sans","symbolSize":28,"symbolType":"stroke","symbolStrokeWidth":1,"rowPadding":0.3,"padding":2,"fillColor":"white","strokeColor":"#cccccc","cornerRadius":2,"labelOffset":2}}}},
  {"data":{"values":[{"x":0,"y":0},{"x":1,"y":1}]},"mark":{"type":"line","color":"black","strokeDash":[3,2],"strokeWidth":0.9},
   "encoding":{"x":{"field":"x","type":"quantitative","scale":{"domain":[0,1],"nice":false,"zero":false},"title":"False Positive Rate"},"y":{"field":"y","type":"quantitative","scale":{"domain":[0,1],"nice":false,"zero":false},"title":"True Positive Rate"}}},
  {"data":{"values":[{}]},"mark":{"type":"rect","filled":false,"stroke":"#b0b0b0","strokeDash":[5,3],"strokeWidth":1,"cornerRadius":8},
   "encoding":{"x":{"datum":-0.15,"type":"quantitative","scale":{"domain":[0,1],"nice":false,"zero":false},"title":"False Positive Rate"},"x2":{"datum":1.075},"y":{"datum":1.041,"type":"quantitative","scale":{"domain":[0,1],"nice":false,"zero":false},"title":"True Positive Rate"},"y2":{"datum":-2.505}}},
  {"data":{"values":[{}]},"mark":{"type":"text","text":"(C)","font":"Liberation Sans","fontWeight":"bold","fontSize":10,"color":"black"},
   "encoding":{"x":{"datum":-0.053,"type":"quantitative","scale":{"domain":[0,1],"nice":false,"zero":false},"title":"False Positive Rate"},"y":{"datum":0.897,"type":"quantitative","scale":{"domain":[0,1],"nice":false,"zero":false},"title":"True Positive Rate"}}}
 ]},
{"width":132,"height":97,
 "layer":[
  {"data":{"name":"cal"},"transform":[{"filter":"datum.p==='D'"}],"mark":{"type":"line","strokeWidth":0.9,"point":{"filled":true,"size":7}},
   "encoding":{"x":{"field":"x","type":"quantitative","scale":{"domain":[0,1],"nice":false,"zero":false},"axis":{"values":[0,0.2,0.4,0.6,0.8,1],"format":".1f"},"title":"Mean predicted probability"},
    "y":{"field":"y","type":"quantitative","scale":{"domain":[0,1],"nice":false,"zero":false},"axis":{"values":[0,0.2,0.4,0.6,0.8,1],"format":".1f"},"title":"Fraction of positives"},
    "color":{"field":"s","type":"nominal","scale":{"domain":["T2w_gland","T2w_lesion","ADC_gland","ADC_lesion","T2w","ADC","T2w_ADC"],"range":["#1f77b4","#ff7f0e","#2ca02c","#d62728","#9467bd","#8c564b","#e377c2"]},
    "legend":{"orient":"bottom-right","offset":2,"title":null,"labelFontSize":3.6,"labelFont":"DejaVu Sans","symbolSize":20,"symbolType":"stroke","symbolStrokeWidth":1,"rowPadding":0.3,"padding":2,"fillColor":"white","strokeColor":"#cccccc","cornerRadius":2,"labelOffset":2}}}},
  {"data":{"values":[{"x":0,"y":0},{"x":1,"y":1}]},"mark":{"type":"line","color":"black","strokeDash":[3,2],"strokeWidth":0.9},
   "encoding":{"x":{"field":"x","type":"quantitative","scale":{"domain":[0,1],"nice":false,"zero":false},"title":"Mean predicted probability"},"y":{"field":"y","type":"quantitative","scale":{"domain":[0,1],"nice":false,"zero":false},"title":"Fraction of positives"}}},
  {"data":{"values":[{}]},"mark":{"type":"text","text":"(D)","font":"Liberation Sans","fontWeight":"bold","fontSize":10,"color":"black"},
   "encoding":{"x":{"datum":-0.068,"type":"quantitative","scale":{"domain":[0,1],"nice":false,"zero":false},"title":"Mean predicted probability"},"y":{"datum":0.9,"type":"quantitative","scale":{"domain":[0,1],"nice":false,"zero":false},"title":"Fraction of positives"}}}
 ]},
{"width":132,"height":97,
 "layer":[
  {"data":{"name":"cal"},"transform":[{"filter":"datum.p==='E'"}],"mark":{"type":"line","strokeWidth":0.9,"point":{"filled":true,"size":7}},
   "encoding":{"x":{"field":"x","type":"quantitative","scale":{"domain":[0,1],"nice":false,"zero":false},"axis":{"values":[0,0.2,0.4,0.6,0.8,1],"format":".1f"},"title":"Mean predicted probability"},
    "y":{"field":"y","type":"quantitative","scale":{"domain":[0,1],"nice":false,"zero":false},"axis":{"values":[0,0.2,0.4,0.6,0.8,1],"format":".1f"},"title":"Fraction of positives"},
    "color":{"field":"s","type":"nominal","scale":{"domain":["T2w_gland","T2w_lesion","ADC_gland","ADC_lesion","T2w","ADC","T2w_ADC"],"range":["#1f77b4","#ff7f0e","#2ca02c","#d62728","#9467bd","#8c564b","#e377c2"]},
    "legend":{"orient":"bottom-right","offset":2,"title":null,"labelFontSize":3.6,"labelFont":"DejaVu Sans","symbolSize":20,"symbolType":"stroke","symbolStrokeWidth":1,"rowPadding":0.3,"padding":2,"fillColor":"white","strokeColor":"#cccccc","cornerRadius":2,"labelOffset":2}}}},
  {"data":{"values":[{"x":0,"y":0},{"x":1,"y":1}]},"mark":{"type":"line","color":"black","strokeDash":[3,2],"strokeWidth":0.9},
   "encoding":{"x":{"field":"x","type":"quantitative","scale":{"domain":[0,1],"nice":false,"zero":false},"title":"Mean predicted probability"},"y":{"field":"y","type":"quantitative","scale":{"domain":[0,1],"nice":false,"zero":false},"title":"Fraction of positives"}}},
  {"data":{"values":[{}]},"mark":{"type":"text","text":"(E)","font":"Liberation Sans","fontWeight":"bold","fontSize":10,"color":"black"},
   "encoding":{"x":{"datum":-0.076,"type":"quantitative","scale":{"domain":[0,1],"nice":false,"zero":false},"title":"Mean predicted probability"},"y":{"datum":0.89,"type":"quantitative","scale":{"domain":[0,1],"nice":false,"zero":false},"title":"Fraction of positives"}}}
 ]},
{"width":132,"height":97,
 "layer":[
  {"data":{"name":"cal"},"transform":[{"filter":"datum.p==='F'"}],"mark":{"type":"line","strokeWidth":0.9,"point":{"filled":true,"size":7}},
   "encoding":{"x":{"field":"x","type":"quantitative","scale":{"domain":[0,1],"nice":false,"zero":false},"axis":{"values":[0,0.2,0.4,0.6,0.8,1],"format":".1f"},"title":"Mean predicted probability"},
    "y":{"field":"y","type":"quantitative","scale":{"domain":[0,1],"nice":false,"zero":false},"axis":{"values":[0,0.2,0.4,0.6,0.8,1],"format":".1f"},"title":"Fraction of positives"},
    "color":{"field":"s","type":"nominal","scale":{"domain":["T2w_gland","T2w_lesion","ADC_gland","ADC_lesion","T2w","ADC","T2w_ADC"],"range":["#1f77b4","#ff7f0e","#2ca02c","#d62728","#9467bd","#8c564b","#e377c2"]},
    "legend":{"orient":"bottom-right","offset":2,"title":null,"labelFontSize":3.6,"labelFont":"DejaVu Sans","symbolSize":20,"symbolType":"stroke","symbolStrokeWidth":1,"rowPadding":0.3,"padding":2,"fillColor":"white","strokeColor":"#cccccc","cornerRadius":2,"labelOffset":2}}}},
  {"data":{"values":[{"x":0,"y":0},{"x":1,"y":1}]},"mark":{"type":"line","color":"black","strokeDash":[3,2],"strokeWidth":0.9},
   "encoding":{"x":{"field":"x","type":"quantitative","scale":{"domain":[0,1],"nice":false,"zero":false},"title":"Mean predicted probability"},"y":{"field":"y","type":"quantitative","scale":{"domain":[0,1],"nice":false,"zero":false},"title":"Fraction of positives"}}},
  {"data":{"values":[{}]},"mark":{"type":"text","text":"(F)","font":"Liberation Sans","fontWeight":"bold","fontSize":10,"color":"black"},
   "encoding":{"x":{"datum":-0.053,"type":"quantitative","scale":{"domain":[0,1],"nice":false,"zero":false},"title":"Mean predicted probability"},"y":{"datum":0.9,"type":"quantitative","scale":{"domain":[0,1],"nice":false,"zero":false},"title":"Fraction of positives"}}}
 ]},
{"width":132,"height":97,
 "title":{"text":"Training set","orient":"bottom","frame":"group","anchor":"middle","offset":4,"dx":-10.5},
 "layer":[
  {"data":{"name":"dca"},"transform":[{"filter":"datum.p==='G' && datum.s!=='Treat none'"}],"mark":{"type":"line","strokeWidth":0.8},
   "encoding":{"x":{"field":"x","type":"quantitative","scale":{"domain":[0,1],"nice":false,"zero":false},"axis":{"values":[0,0.2,0.4,0.6,0.8,1],"format":".1f"},"title":"Threshold Probability"},
    "y":{"field":"y","type":"quantitative","scale":{"domain":[-0.2,0.44],"nice":false,"zero":false},"axis":{"values":[-0.2,-0.1,0,0.1,0.2,0.3,0.4],"format":".1f"},"title":"Net Benefit"},
    "color":{"field":"s","type":"nominal","scale":{"domain":["T2w_gland","T2w_lesion","ADC_gland","ADC_lesion","T2w","ADC","T2w_ADC","Treat all","Treat none"],"range":["#1f77b4","#ff7f0e","#2ca02c","#d62728","#9467bd","#8c564b","#e377c2","#333333","#808080"]},
    "legend":{"orient":"top-right","offset":1,"title":null,"labelFontSize":2.8,"labelFont":"DejaVu Sans","symbolSize":11,"symbolType":"stroke","symbolStrokeWidth":0.8,"rowPadding":0.2,"padding":1.5,"fillColor":"white","strokeColor":"#cccccc","cornerRadius":1.5,"labelOffset":1.5}}}},
  {"data":{"name":"dca"},"transform":[{"filter":"datum.p==='G' && datum.s==='Treat none'"}],"mark":{"type":"line","strokeWidth":1.6},
   "encoding":{"x":{"field":"x","type":"quantitative","scale":{"domain":[0,1],"nice":false,"zero":false},"title":"Threshold Probability"},
    "y":{"field":"y","type":"quantitative","scale":{"domain":[-0.2,0.44],"nice":false,"zero":false},"title":"Net Benefit"},
    "color":{"field":"s","type":"nominal","scale":{"domain":["T2w_gland","T2w_lesion","ADC_gland","ADC_lesion","T2w","ADC","T2w_ADC","Treat all","Treat none"],"range":["#1f77b4","#ff7f0e","#2ca02c","#d62728","#9467bd","#8c564b","#e377c2","#333333","#808080"]}}}},
  {"data":{"values":[{}]},"mark":{"type":"text","text":"(G)","font":"Liberation Sans","fontWeight":"bold","fontSize":10,"color":"black"},
   "encoding":{"x":{"datum":-0.08,"type":"quantitative","scale":{"domain":[0,1],"nice":false,"zero":false},"title":"Threshold Probability"},"y":{"datum":0.343,"type":"quantitative","scale":{"domain":[-0.2,0.44],"nice":false,"zero":false},"title":"Net Benefit"}}}
 ]},
{"width":132,"height":97,
 "title":{"text":"Testing set","orient":"bottom","frame":"group","anchor":"middle","offset":4,"dx":-9.5},
 "layer":[
  {"data":{"name":"dca"},"transform":[{"filter":"datum.p==='H' && datum.s!=='Treat none'"}],"mark":{"type":"line","strokeWidth":0.8},
   "encoding":{"x":{"field":"x","type":"quantitative","scale":{"domain":[0,1],"nice":false,"zero":false},"axis":{"values":[0,0.2,0.4,0.6,0.8,1],"format":".1f"},"title":"Threshold Probability"},
    "y":{"field":"y","type":"quantitative","scale":{"domain":[-0.2,0.44],"nice":false,"zero":false},"axis":{"values":[-0.2,-0.1,0,0.1,0.2,0.3,0.4],"format":".1f"},"title":"Net Benefit"},
    "color":{"field":"s","type":"nominal","scale":{"domain":["T2w_gland","T2w_lesion","ADC_gland","ADC_lesion","T2w","ADC","T2w_ADC","Treat all","Treat none"],"range":["#1f77b4","#ff7f0e","#2ca02c","#d62728","#9467bd","#8c564b","#e377c2","#333333","#808080"]},
    "legend":{"orient":"top-right","offset":1,"title":null,"labelFontSize":2.8,"labelFont":"DejaVu Sans","symbolSize":11,"symbolType":"stroke","symbolStrokeWidth":0.8,"rowPadding":0.2,"padding":1.5,"fillColor":"white","strokeColor":"#cccccc","cornerRadius":1.5,"labelOffset":1.5}}}},
  {"data":{"name":"dca"},"transform":[{"filter":"datum.p==='H' && datum.s==='Treat none'"}],"mark":{"type":"line","strokeWidth":1.6},
   "encoding":{"x":{"field":"x","type":"quantitative","scale":{"domain":[0,1],"nice":false,"zero":false},"title":"Threshold Probability"},
    "y":{"field":"y","type":"quantitative","scale":{"domain":[-0.2,0.44],"nice":false,"zero":false},"title":"Net Benefit"},
    "color":{"field":"s","type":"nominal","scale":{"domain":["T2w_gland","T2w_lesion","ADC_gland","ADC_lesion","T2w","ADC","T2w_ADC","Treat all","Treat none"],"range":["#1f77b4","#ff7f0e","#2ca02c","#d62728","#9467bd","#8c564b","#e377c2","#333333","#808080"]}}}},
  {"data":{"values":[{}]},"mark":{"type":"text","text":"(H)","font":"Liberation Sans","fontWeight":"bold","fontSize":10,"color":"black"},
   "encoding":{"x":{"datum":-0.065,"type":"quantitative","scale":{"domain":[0,1],"nice":false,"zero":false},"title":"Threshold Probability"},"y":{"datum":0.343,"type":"quantitative","scale":{"domain":[-0.2,0.44],"nice":false,"zero":false},"title":"Net Benefit"}}}
 ]},
{"width":132,"height":97,
 "title":{"text":"External validation set","orient":"bottom","frame":"group","anchor":"middle","offset":4,"dx":0.5},
 "layer":[
  {"data":{"name":"dca"},"transform":[{"filter":"datum.p==='I' && datum.s!=='Treat none'"}],"mark":{"type":"line","strokeWidth":0.8},
   "encoding":{"x":{"field":"x","type":"quantitative","scale":{"domain":[0,1],"nice":false,"zero":false},"axis":{"values":[0,0.2,0.4,0.6,0.8,1],"format":".1f"},"title":"Threshold Probability"},
    "y":{"field":"y","type":"quantitative","scale":{"domain":[-0.2,0.5],"nice":false,"zero":false},"axis":{"values":[-0.2,-0.1,0,0.1,0.2,0.3,0.4,0.5],"format":".1f"},"title":"Net Benefit"},
    "color":{"field":"s","type":"nominal","scale":{"domain":["T2w_gland","T2w_lesion","ADC_gland","ADC_lesion","T2w","ADC","T2w_ADC","Treat all","Treat none"],"range":["#1f77b4","#ff7f0e","#2ca02c","#d62728","#9467bd","#8c564b","#e377c2","#333333","#808080"]},
    "legend":{"orient":"top-right","offset":1,"title":null,"labelFontSize":2.8,"labelFont":"DejaVu Sans","symbolSize":11,"symbolType":"stroke","symbolStrokeWidth":0.8,"rowPadding":0.2,"padding":1.5,"fillColor":"white","strokeColor":"#cccccc","cornerRadius":1.5,"labelOffset":1.5}}}},
  {"data":{"name":"dca"},"transform":[{"filter":"datum.p==='I' && datum.s==='Treat none'"}],"mark":{"type":"line","strokeWidth":1.6},
   "encoding":{"x":{"field":"x","type":"quantitative","scale":{"domain":[0,1],"nice":false,"zero":false},"title":"Threshold Probability"},
    "y":{"field":"y","type":"quantitative","scale":{"domain":[-0.2,0.5],"nice":false,"zero":false},"title":"Net Benefit"},
    "color":{"field":"s","type":"nominal","scale":{"domain":["T2w_gland","T2w_lesion","ADC_gland","ADC_lesion","T2w","ADC","T2w_ADC","Treat all","Treat none"],"range":["#1f77b4","#ff7f0e","#2ca02c","#d62728","#9467bd","#8c564b","#e377c2","#333333","#808080"]}}}},
  {"data":{"values":[{}]},"mark":{"type":"text","text":"(I)","font":"Liberation Sans","fontWeight":"bold","fontSize":10,"color":"black"},
   "encoding":{"x":{"datum":-0.06,"type":"quantitative","scale":{"domain":[0,1],"nice":false,"zero":false},"title":"Threshold Probability"},"y":{"datum":0.41,"type":"quantitative","scale":{"domain":[-0.2,0.5],"nice":false,"zero":false},"title":"Net Benefit"}}}
 ]}
]
}
